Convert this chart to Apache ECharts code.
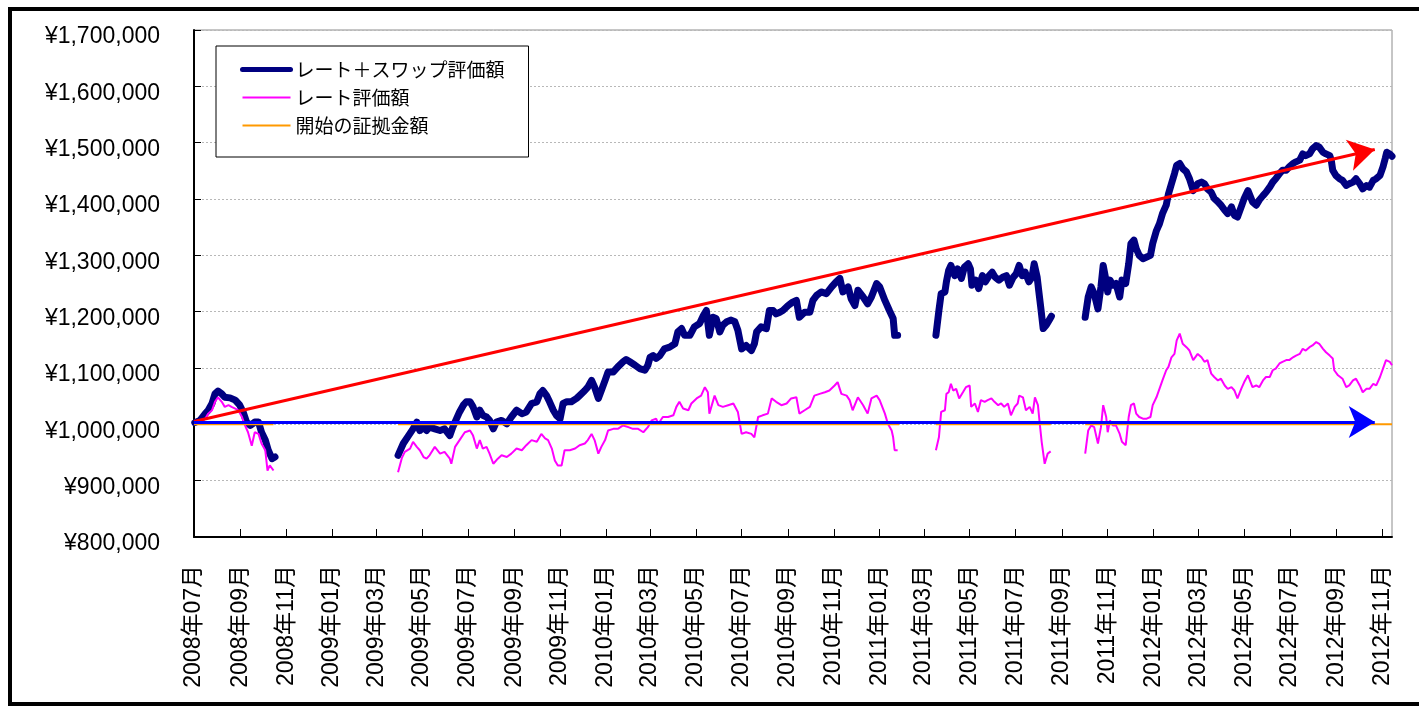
<!DOCTYPE html>
<html>
<head>
<meta charset="utf-8">
<script src="https://cdn.jsdelivr.net/npm/echarts@6/dist/echarts.min.js"></script>
<style>
html,body{margin:0;padding:0;background:#fff;}
#chart{width:1419px;height:709px;}
</style>
</head>
<body>
<div id="chart"></div>
<script>
// ---------- data ----------
const startDate = '2008-07-01';          // day 0 of the x axis
const lastDay = 1597;                     // last trading day shown (days after startDate)
const seriesNames = ['レート＋スワップ評価額', 'レート評価額', '開始の証拠金額'];
const tickMonths = ['2008-07','2008-09','2008-11','2009-01','2009-03','2009-05','2009-07','2009-09','2009-11',
  '2010-01','2010-03','2010-05','2010-07','2010-09','2010-11','2011-01','2011-03','2011-05','2011-07','2011-09',
  '2011-11','2012-01','2012-03','2012-05','2012-07','2012-09','2012-11'];

// days after startDate (null value = no data / gap)
const navyDays = [1,8,15,19,24,28,32,37,41,48,55,61,66,70,75,81,86,90,95,99,104,108,
  190,
  272,279,286,292,297,301,306,310,314,321,328,334,341,345,350,354,359,363,368,372,377,381,385,390,394,399,403,410,417,423,430,437,443,450,457,461,465,470,474,479,483,488,492,497,503,510,514,521,525,530,534,539,543,548,552,559,565,572,576,581,588,594,601,605,608,612,616,621,627,634,641,645,650,654,661,667,674,679,683,687,692,696,701,705,710,716,721,725,730,736,743,747,750,756,763,767,772,776,781,785,792,798,803,807,814,821,825,830,836,843,850,856,861,865,872,876,881,885,892,898,903,910,914,921,927,932,934,938,
  960,
  989,993,996,1001,1003,1006,1009,1014,1018,1023,1027,1032,1035,1037,1042,1046,1051,1055,1060,1064,1068,1073,1078,1083,1087,1092,1096,1100,1104,1108,1113,1117,1120,1124,1126,1129,1132,1136,1140,1143,
  1165,
  1188,1192,1196,1200,1205,1209,1212,1215,1218,1221,1225,1229,1234,1237,1242,1246,1249,1253,1256,1260,1265,1270,1275,1278,1283,1287,1291,1296,1299,1303,1307,1310,1314,1318,1323,1327,1332,1338,1343,1347,1351,1356,1360,1365,1369,1374,1378,1383,1387,1391,1396,1400,1405,1411,1416,1420,1425,1429,1434,1438,1442,1447,1451,1456,1460,1465,1469,1474,1478,1482,1487,1491,1496,1500,1505,1509,1514,1516,1518,1522,1527,1531,1536,1540,1545,1549,1554,1558,1563,1567,1572,1576,1581,1585,1588,1590,1594,1597];
const navyValues = [1003000,1007000,1019000,1025000,1037000,1054000,1059000,1054000,1048000,1047000,1043000,1034000,1020000,1004000,998000,1004000,1004000,986000,972000,954000,939000,942000,
  null,
  945000,966000,980000,992000,1004000,989000,995000,989000,995000,992000,989000,992000,980000,995000,1010000,1022000,1034000,1040000,1040000,1031000,1013000,1025000,1016000,1013000,1007000,992000,1004000,1007000,1001000,1013000,1025000,1019000,1022000,1037000,1040000,1054000,1060000,1051000,1040000,1025000,1016000,1010000,1037000,1040000,1040000,1046000,1051000,1060000,1066000,1078000,1066000,1046000,1060000,1078000,1093000,1093000,1102000,1111000,1115000,1111000,1105000,1099000,1096000,1105000,1119000,1122000,1117000,1122000,1134000,1137000,1143000,1164000,1170000,1158000,1158000,1173000,1179000,1193000,1202000,1158000,1190000,1188000,1164000,1176000,1182000,1185000,1182000,1167000,1134000,1140000,1131000,1143000,1164000,1173000,1170000,1202000,1202000,1196000,1199000,1202000,1211000,1217000,1220000,1190000,1199000,1199000,1220000,1229000,1235000,1232000,1244000,1253000,1259000,1235000,1244000,1223000,1211000,1238000,1226000,1214000,1226000,1250000,1244000,1220000,1202000,1188000,1158000,1158000,
  null,
  1158000,1202000,1232000,1235000,1253000,1273000,1282000,1264000,1276000,1259000,1279000,1285000,1276000,1247000,1256000,1241000,1264000,1253000,1264000,1270000,1261000,1256000,1261000,1264000,1247000,1261000,1267000,1282000,1264000,1270000,1253000,1261000,1285000,1261000,1238000,1205000,1170000,1176000,1185000,1192000,
  null,
  1190000,1226000,1244000,1232000,1205000,1244000,1282000,1261000,1235000,1256000,1247000,1250000,1226000,1256000,1250000,1285000,1321000,1327000,1312000,1300000,1294000,1297000,1300000,1321000,1344000,1356000,1374000,1389000,1409000,1427000,1445000,1460000,1463000,1454000,1448000,1436000,1415000,1427000,1430000,1427000,1418000,1412000,1401000,1395000,1389000,1380000,1374000,1386000,1371000,1368000,1386000,1401000,1415000,1395000,1389000,1398000,1406000,1412000,1421000,1430000,1436000,1445000,1451000,1451000,1457000,1463000,1466000,1469000,1480000,1477000,1480000,1489000,1495000,1492000,1483000,1480000,1477000,1469000,1451000,1442000,1436000,1433000,1424000,1427000,1430000,1436000,1427000,1418000,1424000,1421000,1433000,1436000,1442000,1457000,1472000,1483000,1480000,1476000];

const rateDays = [1,8,15,19,24,28,32,37,41,46,50,55,59,64,68,72,77,81,86,90,95,98,101,106,
  190,
  272,277,281,288,292,297,301,306,310,314,321,328,334,341,343,348,354,361,368,372,377,381,385,390,394,399,405,410,417,423,430,437,443,450,457,463,468,472,477,481,485,490,494,501,508,514,521,525,530,534,539,543,548,552,559,565,572,579,585,592,599,605,610,616,619,625,632,639,643,647,652,659,663,670,676,681,685,687,694,699,705,712,719,725,730,736,743,747,752,758,765,770,776,783,790,796,803,807,814,821,827,834,841,847,854,858,863,870,874,878,885,892,898,903,910,914,921,925,930,932,934,938,
  960,
  989,993,996,1001,1003,1006,1009,1012,1016,1020,1025,1029,1034,1036,1041,1045,1049,1054,1058,1063,1067,1072,1076,1080,1085,1089,1094,1098,1100,1105,1109,1114,1118,1121,1125,1127,1130,1134,1138,1142,
  1165,
  1188,1192,1196,1200,1205,1209,1212,1216,1218,1221,1225,1229,1234,1237,1242,1246,1249,1253,1256,1260,1265,1270,1275,1278,1283,1287,1291,1296,1299,1303,1307,1310,1314,1318,1323,1327,1332,1338,1343,1347,1351,1356,1360,1365,1369,1374,1378,1383,1387,1391,1396,1400,1405,1411,1416,1420,1425,1429,1434,1438,1442,1447,1451,1456,1460,1465,1469,1474,1478,1482,1487,1491,1496,1500,1505,1509,1514,1518,1520,1525,1531,1536,1540,1545,1549,1554,1558,1563,1567,1572,1576,1581,1585,1589,1594,1597];
const rateValues = [1000000,1004000,1010000,1019000,1025000,1040000,1048000,1040000,1031000,1034000,1031000,1028000,1025000,1013000,998000,986000,962000,986000,983000,966000,954000,918000,927000,918000,
  null,
  915000,940000,951000,957000,969000,960000,954000,942000,939000,945000,960000,948000,951000,939000,930000,960000,972000,986000,989000,980000,957000,972000,957000,960000,948000,930000,939000,945000,942000,948000,957000,954000,963000,972000,969000,983000,975000,972000,957000,936000,927000,927000,954000,954000,957000,963000,966000,972000,983000,972000,948000,960000,972000,989000,992000,992000,998000,995000,992000,992000,986000,995000,1007000,1010000,1001000,1013000,1013000,1016000,1031000,1040000,1028000,1025000,1037000,1046000,1051000,1066000,1057000,1019000,1051000,1034000,1031000,1034000,1037000,1022000,983000,986000,983000,977000,1013000,1016000,1019000,1046000,1040000,1034000,1037000,1046000,1048000,1019000,1025000,1031000,1051000,1054000,1057000,1060000,1069000,1075000,1054000,1051000,1043000,1025000,1048000,1034000,1019000,1046000,1051000,1043000,1019000,1001000,989000,977000,954000,954000,
  null,
  954000,977000,1022000,1025000,1054000,1057000,1072000,1060000,1063000,1046000,1057000,1066000,1069000,1031000,1037000,1022000,1043000,1040000,1043000,1046000,1040000,1034000,1037000,1031000,1037000,1016000,1031000,1037000,1051000,1048000,1025000,1031000,1019000,1048000,1034000,1007000,969000,930000,948000,952000,
  null,
  948000,989000,998000,995000,966000,995000,1034000,1013000,986000,1007000,998000,998000,983000,969000,963000,1013000,1034000,1037000,1019000,1013000,1010000,1010000,1013000,1034000,1048000,1063000,1078000,1096000,1102000,1119000,1125000,1149000,1161000,1143000,1137000,1131000,1114000,1125000,1119000,1111000,1114000,1090000,1084000,1078000,1081000,1069000,1063000,1066000,1060000,1046000,1063000,1075000,1087000,1066000,1069000,1066000,1078000,1084000,1084000,1096000,1099000,1108000,1111000,1114000,1114000,1119000,1122000,1125000,1134000,1131000,1137000,1140000,1146000,1143000,1134000,1128000,1122000,1117000,1096000,1087000,1081000,1066000,1069000,1078000,1081000,1069000,1057000,1063000,1063000,1072000,1069000,1084000,1099000,1114000,1111000,1105000];

const marginDays   = [0, 106, 190, 272, 940, 960, 989, 1142, 1165, 1188, 1597];
const marginValues = [1000000, 1000000, null, 1000000, 1000000, null, 1000000, 1000000, null, 1000000, 1000000];

const redArrowDays = [0, 1574];
const redArrowValues = [1005000, 1488000];
const blueArrowDays = [0, 1574];
const blueArrowValues = [1004000, 1004000];

// ---------- helpers ----------
const DAY = 86400000;
const baseTime = Date.parse(startDate + 'T00:00:00Z');
function dayOf(ym) { const p = ym.split('-'); return Math.round((Date.UTC(+p[0], +p[1] - 1, 1) - baseTime) / DAY); }
function monthLabel(day) {
  const d = new Date(baseTime + Math.round(day) * DAY);
  const m = d.getUTCMonth() + 1;
  return d.getUTCFullYear() + '年' + (m < 10 ? '0' + m : m) + '月';
}
function yen(v) { return '{a|¥' + String(Math.round(v)).replace(/\B(?=(\d{3})+(?!\d))/g, ',') + '}'; }
function zip(xs, ys) { return xs.map((x, i) => [x, ys[i] === null ? null : ys[i]]); }

const tickDays = tickMonths.map(dayOf);
const labelFont = "'Liberation Sans', Arial, 'Noto Sans CJK JP', sans-serif";
const jpFont = "'Noto Sans CJK JP', 'Liberation Sans', sans-serif";
const hiddenSymbol = { opacity: 0, borderWidth: 0 };

const chart = echarts.init(document.getElementById('chart'), null, { renderer: 'canvas' });
chart.setOption({
  animation: false,
  backgroundColor: '#fff',
  grid: { left: 194, right: 27, top: 30, bottom: 172, show: true, borderColor: '#8c8c8c', borderWidth: 1, containLabel: false },
  xAxis: {
    type: 'value', min: 0, max: lastDay,
    axisLine: { show: true, onZero: false, lineStyle: { color: '#000', width: 2 } },
    axisTick: { show: true, inside: true, length: 8, lineStyle: { color: '#000', width: 1 }, customValues: tickDays },
    axisLabel: { show: true, rotate: 90, margin: 28, fontSize: 23, color: '#000', fontFamily: labelFont,
      customValues: tickDays, formatter: (v) => monthLabel(v), hideOverlap: false },
    splitLine: { show: false }
  },
  yAxis: {
    type: 'value', min: 800000, max: 1700000, interval: 100000,
    axisLine: { show: true, onZero: false, lineStyle: { color: '#000', width: 2 } },
    axisTick: { show: true, inside: true, length: 7, lineStyle: { color: '#000', width: 1 } },
    axisLabel: { fontSize: 23, color: '#000', fontFamily: labelFont, margin: 34, formatter: yen,
      rich: { a: { fontSize: 23, color: '#000', fontFamily: labelFont, padding: [14, 0, 0, 0] } } },
    splitLine: { show: true, lineStyle: { color: '#b8b8b8', width: 1, type: [2, 2] } }
  },
  legend: {
    data: [
      { name: seriesNames[0], lineStyle: { width: 5 }, itemStyle: hiddenSymbol },
      { name: seriesNames[1], lineStyle: { width: 2 }, itemStyle: hiddenSymbol },
      { name: seriesNames[2], lineStyle: { width: 2 }, itemStyle: hiddenSymbol }
    ],
    orient: 'vertical', left: 216, top: 46,
    padding: [14, 24, 22, 24],
    backgroundColor: '#fff', borderColor: '#000', borderWidth: 1, borderRadius: 0,
    itemWidth: 48, itemHeight: 14, itemGap: 9,
    selectedMode: false,
    textStyle: { fontSize: 19, color: '#000', fontFamily: jpFont }
  },
  series: [
    { name: seriesNames[0], type: 'line', data: zip(navyDays, navyValues), symbol: 'none', connectNulls: false,
      lineStyle: { color: '#000080', width: 7, cap: 'round', join: 'round' }, itemStyle: { color: '#000080' }, z: 2 },
    { name: seriesNames[1], type: 'line', data: zip(rateDays, rateValues), symbol: 'none', connectNulls: false,
      lineStyle: { color: '#ff00ff', width: 2 }, itemStyle: { color: '#ff00ff' }, z: 3 },
    { name: seriesNames[2], type: 'line', data: zip(marginDays, marginValues), symbol: 'none', connectNulls: false,
      lineStyle: { color: '#ff9900', width: 2 }, itemStyle: { color: '#ff9900' }, z: 3 },
    { name: 'arrows', type: 'line', data: [], z: 5, silent: true,
      markLine: {
        silent: true, animation: false, symbol: ['none', 'arrow'], symbolSize: [24, 26],
        label: { show: false },
        data: [
          [ { coord: [redArrowDays[0], redArrowValues[0]], lineStyle: { color: '#ff0000', width: 3, type: 'solid' }, itemStyle: { color: '#ff0000' } },
            { coord: [redArrowDays[1], redArrowValues[1]] } ],
          [ { coord: [blueArrowDays[0], blueArrowValues[0]], lineStyle: { color: '#0000ff', width: 3, type: 'solid' }, itemStyle: { color: '#0000ff' } },
            { coord: [blueArrowDays[1], blueArrowValues[1]] } ]
        ]
      }
    }
  ],
  graphic: [
    { type: 'rect', silent: true, z: 100,
      shape: { x: 10, y: 9, width: 1420, height: 695 },
      style: { fill: null, stroke: '#000', lineWidth: 4 } }
  ]
});
</script>
</body>
</html>
